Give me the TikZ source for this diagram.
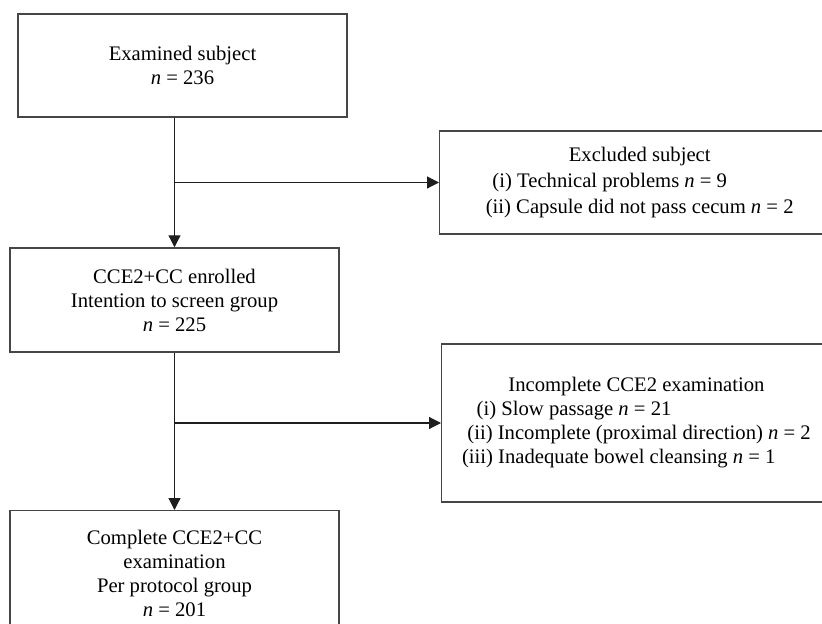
\documentclass[tikz,border=0pt]{standalone}
\usepackage{fontspec}
\setmainfont{Liberation Serif}
\usetikzlibrary{positioning,arrows.meta,calc}
\definecolor{boxline}{RGB}{70,70,70}
\definecolor{linkline}{RGB}{30,30,30}

\begin{document}
\begin{tikzpicture}[x=0.75pt, y=-0.75pt, >={Triangle[length=9pt,width=9pt]},
    flowbox/.style={draw=boxline, line width=1.1pt, align=center, inner sep=0pt,
        font=\fontsize{15.5}{18}\selectfont, minimum width=246.75pt},
    sidebox/.style={draw=boxline, line width=1.1pt, anchor=west, inner sep=0pt,
        font=\fontsize{15.5}{18}\selectfont},
    link/.style={line width=0.9pt, linkline}]

    % Cadre de la figure
    \useasboundingbox (0,0) rectangle (822,624);
    \clip (0,0) rectangle (822,624);

    % =========================================================================
    % BOITES PRINCIPALES
    % =========================================================================
    \node[flowbox, minimum height=77.25pt] (examined) at (182.5,65.5)
        {Examined subject\\ \textit{n} = 236};

    \node[flowbox, minimum height=78pt] (enrolled) at (174.5,300)
        {CCE2+CC enrolled\\ Intention to screen group\\ \textit{n} = 225};

    \node[flowbox, minimum height=94pt, anchor=north] (complete) at (174.5,510)
        {Complete CCE2+CC\\ examination\\ Per protocol group\\ \textit{n} = 201};

    % =========================================================================
    % BOITES D'EXCLUSION
    % =========================================================================
    \node[sidebox, minimum width=300pt, minimum height=77.25pt] (excluded) at (439,182.5) {%
        \begin{tabular}{@{}l@{}}
        \multicolumn{1}{@{}c@{}}{Excluded subject}\\[1.5pt]
        \hspace*{5pt}(i) Technical problems \textit{n} = 9\\[1.5pt]
        (ii) Capsule did not pass cecum \textit{n} = 2
        \end{tabular}};

    \node[sidebox, minimum width=292pt, minimum height=118.5pt] (incomplete) at (441,423) {%
        \begin{tabular}{@{}l@{}}
        \multicolumn{1}{@{}c@{}}{Incomplete CCE2 examination}\\
        \hspace*{11pt}(i) Slow passage \textit{n} = 21\\
        \hspace*{4pt}(ii) Incomplete (proximal direction) \textit{n} = 2\\
        (iii) Inadequate bowel cleansing \textit{n} = 1
        \end{tabular}};

    % =========================================================================
    % FLECHES
    % =========================================================================
    \coordinate (trunk1) at (examined.south -| enrolled.north);
    \draw[link, ->] (trunk1) -- (enrolled.north);
    \draw[link, ->] (excluded.west -| trunk1) -- (excluded.west);

    \draw[link, ->] (enrolled.south) -- (complete.north);
    \draw[link, ->] (incomplete.west -| enrolled.south) -- (incomplete.west);
\end{tikzpicture}
\end{document}
